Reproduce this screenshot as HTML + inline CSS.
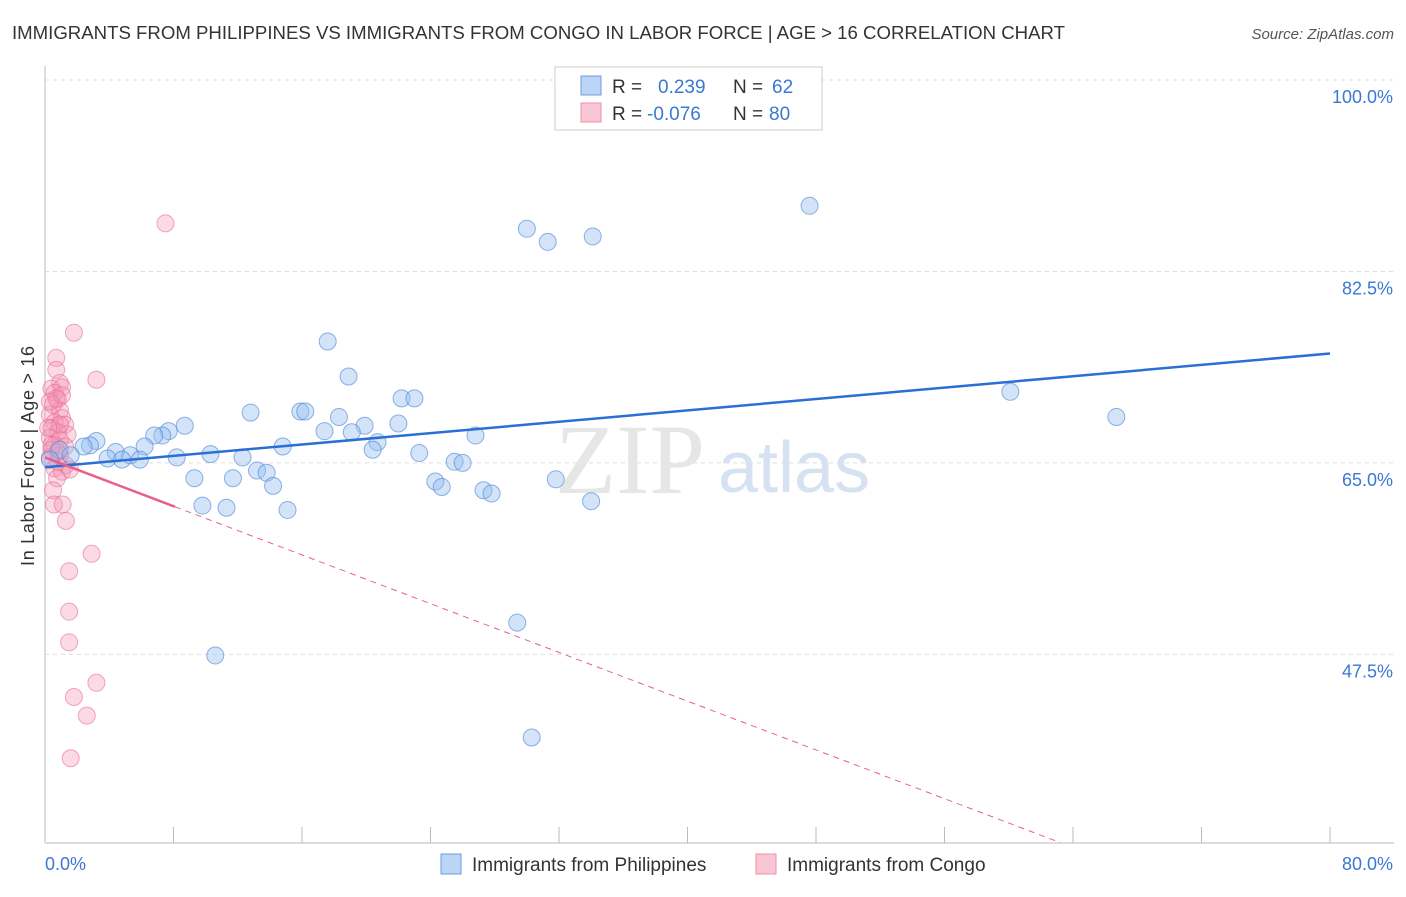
<!DOCTYPE html>
<html><head><meta charset="utf-8"><style>
body{margin:0;background:#fff;font-family:"Liberation Sans",sans-serif;}
</style></head><body>
<svg width="1406" height="892" viewBox="0 0 1406 892" xmlns="http://www.w3.org/2000/svg">
<text x="12" y="39" font-size="18" fill="#333" textLength="1053" lengthAdjust="spacingAndGlyphs">IMMIGRANTS FROM PHILIPPINES VS IMMIGRANTS FROM CONGO IN LABOR FORCE | AGE &gt; 16 CORRELATION CHART</text>
<text x="1394" y="39" font-size="15" fill="#555" font-style="italic" text-anchor="end">Source: ZipAtlas.com</text>
<text x="0" y="0" font-size="18" fill="#333" transform="translate(34,456) rotate(-90)" text-anchor="middle" textLength="220">In Labor Force | Age &gt; 16</text>
<g id="grid"></g>
<text x="555" y="493" font-size="100" font-family="Liberation Serif,serif" fill="#e6e6e6">ZIP</text>
<text x="718" y="492" font-size="72" fill="#d6e2f2">atlas</text>
<g id="pts"></g>
<g id="lines"></g>
<g>
<rect x="555" y="67" width="267" height="63" fill="#fff" stroke="#ccc"/>
<rect x="581" y="76" width="20" height="19" fill="#bcd4f5" stroke="#6a9ee0"/>
<rect x="581" y="103" width="20" height="19" fill="#f9c6d4" stroke="#ee8fab"/>
<text x="612" y="93" font-size="19" fill="#333">R =</text><text x="658" y="93" font-size="19" fill="#3a78d4">0.239</text>
<text x="733" y="93" font-size="19" fill="#333">N =</text><text x="772" y="93" font-size="19" fill="#3a78d4">62</text>
<text x="612" y="120" font-size="19" fill="#333">R =</text><text x="647" y="120" font-size="19" fill="#3a78d4">-0.076</text>
<text x="733" y="120" font-size="19" fill="#333">N =</text><text x="769" y="120" font-size="19" fill="#3a78d4">80</text>
</g>
<g>
<rect x="441" y="854" width="20" height="20" fill="#bcd4f5" stroke="#6a9ee0"/>
<text x="472" y="871" font-size="19" fill="#333">Immigrants from Philippines</text>
<rect x="756" y="854" width="20" height="20" fill="#f9c6d4" stroke="#ee8fab"/>
<text x="787" y="871" font-size="19" fill="#333">Immigrants from Congo</text>
</g>
</svg>
<script>
const xTicks=[0,80];
const yTicks=[100,82.5,65,47.5];
const blueX=[47.6,30.0,31.3,34.1,17.6,18.9,60.1,66.7,22.2,23.0,12.8,15.9,16.2,18.3,19.9,22.0,8.7,17.4,19.1,7.7,7.3,6.8,26.8,20.7,3.2,2.8,2.4,6.2,14.8,20.4,4.4,5.3,10.3,12.3,23.3,3.9,4.8,5.9,8.2,25.5,26.0,13.2,13.8,9.3,11.7,31.8,24.3,24.7,14.2,27.3,27.8,34.0,9.8,11.3,15.1,29.4,10.6,30.3,0.9,0.3,1.6];
const blueY=[88.5,86.4,85.2,85.7,76.1,72.9,71.5,69.2,70.9,70.9,69.6,69.7,69.7,69.2,68.4,68.6,68.4,67.9,67.8,67.9,67.5,67.5,67.5,66.9,67.0,66.6,66.5,66.5,66.5,66.2,66.0,65.7,65.8,65.5,65.9,65.4,65.3,65.3,65.5,65.1,65.0,64.3,64.1,63.6,63.6,63.5,63.3,62.8,62.9,62.5,62.2,61.5,61.1,60.9,60.7,50.4,47.4,39.9,66.2,65.3,65.7];
const pinkX=[7.5,1.8,0.7,0.7,3.2,0.93,0.4,1.06,0.6,0.8,0.5,0.93,0.3,1.06,0.6,1.25,0.4,0.8,1.4,0.3,0.93,0.6,1.25,0.4,0.93,0.3,0.8,1.3,0.6,1.06,1.55,0.75,0.5,0.56,1.1,1.3,2.9,1.5,1.5,1.5,3.2,1.8,2.6,1.6,0.93,0.2,0.4,0.8,0.7,1.06,0.3];
const pinkY=[86.9,76.9,74.6,73.5,72.6,72.3,71.8,71.9,71.4,70.8,70.3,69.8,69.4,69.1,68.7,68.5,68.2,67.8,67.6,67.3,67.1,66.6,66.5,66.2,65.7,65.5,65.1,64.8,64.5,64.2,64.4,63.6,62.5,61.2,61.2,59.7,56.7,55.1,51.4,48.6,44.9,43.6,41.9,38.0,68.5,68.2,66.6,66.0,70.9,71.2,70.6];
const blueFit=[64.6,75.0];
const pinkFit=[65.5,-0.557];
const X0=45,X1=1330,Y100=80,PPU=10.94,YB=843;
const sx=v=>X0+(v-0)/80*(X1-X0);
const sy=v=>Y100+(100-v)*PPU;
const NS='http://www.w3.org/2000/svg';
function mk(t,a,p){const e=document.createElementNS(NS,t);for(const k in a)e.setAttribute(k,a[k]);p.appendChild(e);return e;}
const grid=document.getElementById('grid');
mk('line',{x1:X0,y1:66,x2:X0,y2:YB,stroke:'#bbb'},grid);
mk('line',{x1:X0,y1:YB,x2:1394,y2:YB,stroke:'#bbb'},grid);
for(let i=1;i<=10;i++){const l=mk('line',{x1:sx(i*8),y1:YB,x2:sx(i*8),y2:YB-16,stroke:'#bbb'},grid);}
yTicks.forEach(v=>{const l=mk('line',{x1:X0,y1:sy(v),x2:1394,y2:sy(v),stroke:'#ddd','stroke-dasharray':'4,4'},grid);
const t=mk('text',{x:1393,y:sy(v)+23,'font-size':18,fill:'#3a78d4','text-anchor':'end'},grid);t.textContent=v.toFixed(1)+'%';});
xTicks.forEach((v,i)=>{const t=mk('text',{x:i?1393:45,y:870,'font-size':18,fill:'#3a78d4','text-anchor':i?'end':'start'},grid);t.textContent=v.toFixed(1)+'%';});
const pts=document.getElementById('pts');
pinkX.forEach((x,i)=>{const c=mk('circle',{cx:sx(x),cy:sy(pinkY[i]),r:8.5,fill:'rgba(244,150,180,0.35)',stroke:'rgba(232,110,150,0.6)'},pts);});
blueX.forEach((x,i)=>{const c=mk('circle',{cx:sx(x),cy:sy(blueY[i]),r:8.5,fill:'rgba(150,190,240,0.42)',stroke:'rgba(70,130,210,0.6)'},pts);});
const ln=document.getElementById('lines');
const b=mk('line',{x1:sx(0),y1:sy(blueFit[0]),x2:sx(80),y2:sy(blueFit[1]),stroke:'#2a6fd6','stroke-width':2.5},ln);
const pe=x=>pinkFit[0]+pinkFit[1]*x;
const p1=mk('line',{x1:sx(0),y1:sy(pe(0)),x2:sx(8.1),y2:sy(pe(8.1)),stroke:'#e8608a','stroke-width':2.5},ln);
const xe=(pinkFit[0]-30.3)/-pinkFit[1];
const p2=mk('line',{x1:sx(8.1),y1:sy(pe(8.1)),x2:sx(xe),y2:sy(pe(xe)),stroke:'#e8608a','stroke-width':1,'stroke-dasharray':'6,5'},ln);
</script>
</body></html>
